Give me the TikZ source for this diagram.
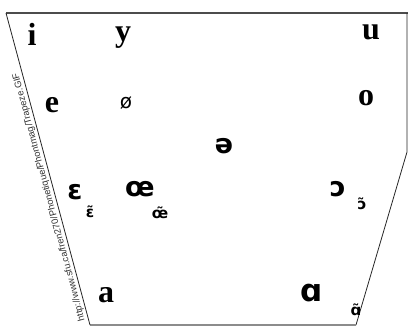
\documentclass[tikz,border=0pt]{standalone}
\usepackage{fontspec}
\setmainfont{Liberation Serif}
\newfontfamily\ipafont{DejaVu Sans}
\newfontfamily\urlfont{Liberation Sans}

\begin{document}
\begin{tikzpicture}[x=1pt,y=1pt,
  serifv/.style={font=\fontsize{32}{32}\selectfont\bfseries,inner sep=0pt},
  ipav/.style={font=\ipafont\fontsize{27}{27}\selectfont\bfseries,inner sep=0pt},
  nasal/.style={font=\ipafont\fontsize{15}{15}\selectfont\bfseries,inner sep=0pt},
  edge/.style={line width=0.8pt,black!85}]
  \useasboundingbox (0,0) rectangle (408,-327);
  % corners of the trapeze
  \coordinate (tl) at (6,-13);
  \coordinate (tr) at (408,-13);
  \coordinate (rk) at (407,-152);
  \coordinate (br) at (356,-325);
  \coordinate (bl) at (90,-325);
  \draw[line width=1.6pt,black!70] (tl) -- (tr);
  \draw[edge] (407,-13) -- (rk) -- (br);
  \draw[line width=2pt,black!45] (br) -- (bl);
  \draw[edge] (bl) -- node[sloped,allow upside down,above,pos=0.415,inner sep=1.5pt,
    font=\urlfont\fontsize{9.4}{9.4}\selectfont,black!80] (url)
    {http://www.sfu.ca/fren270/Phonetique/Phontmag/Trapeze.GIF} (tl);
  % oral vowels
  \node[serifv] (i) at (32,-34) {i};
  \node[serifv] (y) at (123,-38) {y};
  \node[serifv] (u) at (371,-32) {u};
  \node[serifv] (e) at (52,-105) {e};
  \node[font=\ipafont\fontsize{20}{20}\selectfont,inner sep=0pt] (oslash) at (126,-103) {ø};
  \node[serifv] (o) at (366,-98) {o};
  \node[ipav] (schwa) at (224,-146) {ə};
  \node[ipav] (epsilon) at (75,-192) {ɛ};
  \node[ipav] (oe) at (140,-189) {œ};
  \node[ipav] (openo) at (338,-189) {ɔ};
  \node[serifv] (a) at (106,-295) {a};
  \node[ipav,font=\ipafont\fontsize{31}{31}\selectfont\bfseries] (alpha) at (312,-293) {ɑ};
  % nasal vowels
  \node[nasal] (epsnas) at (90,-212) {ɛ̃};
  \node[nasal] (oenas) at (160,-213) {œ̃};
  \node[nasal] (onas) at (362,-204) {ɔ̃};
  \node[nasal] (anas) at (356,-310) {ɑ̃};
\end{tikzpicture}
\end{document}
